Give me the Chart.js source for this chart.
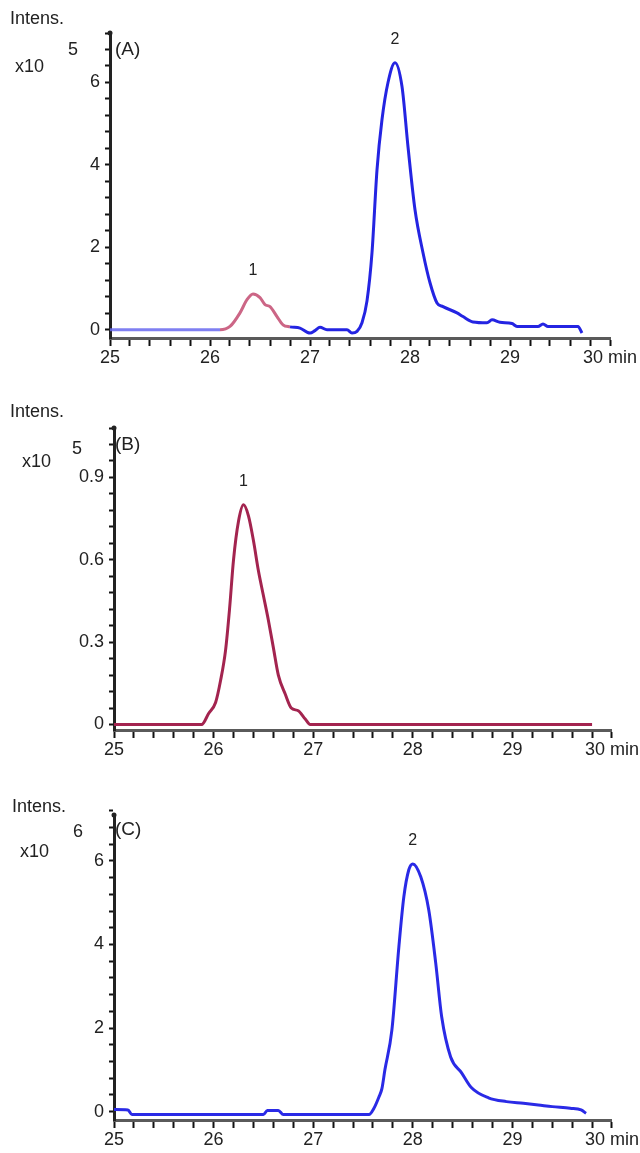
<!DOCTYPE html>
<html>
<head>
<meta charset="utf-8">
<script src="https://cdn.jsdelivr.net/npm/chart.js@4.4.0/dist/chart.umd.min.js"></script>
<style>
    body { margin: 0; background: #fff; width: 640px; height: 1153px; position: relative; overflow: hidden;
           font-family: "Liberation Sans", Arial, sans-serif; }
    canvas { position: absolute; left: 0; }
    .lbl { position: absolute; font-size: 18px; line-height: 18px; color: #222; white-space: nowrap; }
</style>
</head>
<body>
<canvas id="chartA" width="640" height="375" style="top:0px"></canvas>
<canvas id="chartB" width="640" height="375" style="top:390px"></canvas>
<canvas id="chartC" width="640" height="378" style="top:775px"></canvas>

<div class="lbl" style="left:10px;top:9px">Intens.</div>
<div class="lbl" style="left:15px;top:57px">x10</div>
<div class="lbl" style="left:68px;top:40px">5</div>
<div class="lbl" style="left:115px;top:40px;font-size:19px">(A)</div>

<div class="lbl" style="left:10px;top:402px">Intens.</div>
<div class="lbl" style="left:22px;top:452px">x10</div>
<div class="lbl" style="left:72px;top:439px">5</div>
<div class="lbl" style="left:115px;top:435px;font-size:19px">(B)</div>

<div class="lbl" style="left:12px;top:797px">Intens.</div>
<div class="lbl" style="left:20px;top:842px">x10</div>
<div class="lbl" style="left:73px;top:822px">6</div>
<div class="lbl" style="left:115px;top:820px;font-size:19px">(C)</div>

<script>
// ===== DATA (retention time in min, intensity in x10^n) =====
const xTickLabels = ['25', '26', '27', '28', '29', '30 min'];

// (A) mixture: peak 1 (highlighted) and peak 2
const timesA = [25.0, 26.1, 26.2, 26.3, 26.37, 26.43, 26.5, 26.55, 26.6, 26.67, 26.73, 26.8,
                26.9, 27.0, 27.05, 27.1, 27.17, 27.37, 27.42, 27.47, 27.52, 27.57, 27.62, 27.67,
                27.72, 27.78, 27.85, 27.92, 27.98, 28.05, 28.13, 28.2, 28.27, 28.33, 28.47, 28.53,
                28.63, 28.77, 28.82, 28.9, 29.02, 29.07, 29.28, 29.33, 29.38, 29.68, 29.72];
const intensA = [0, 0, 0.08, 0.41, 0.73, 0.87, 0.78, 0.61, 0.56, 0.32, 0.12, 0.07,
                 0.04, -0.08, -0.02, 0.06, 0, 0, -0.08, -0.04, 0.17, 0.7, 1.87, 3.88,
                 5.1, 6.0, 6.48, 5.9, 4.44, 2.91, 1.87, 1.14, 0.65, 0.56, 0.41, 0.32,
                 0.19, 0.17, 0.24, 0.18, 0.15, 0.08, 0.08, 0.14, 0.08, 0.08, -0.08];
const yLabelsA = [0, 2, 4, 6];

// (B) peak 1 only
const timesB = [25.0, 25.88, 25.95, 26.02, 26.07, 26.12, 26.16, 26.2, 26.25, 26.3, 26.35, 26.4,
                26.45, 26.5, 26.55, 26.6, 26.65, 26.72, 26.78, 26.85, 26.92, 26.97, 29.8];
const intensB = [0, 0, 0.04, 0.08, 0.16, 0.27, 0.42, 0.6, 0.74, 0.8, 0.76, 0.67,
                 0.56, 0.47, 0.38, 0.28, 0.18, 0.11, 0.06, 0.05, 0.02, 0, 0];
const yLabelsB = [0, 0.3, 0.6, 0.9];

// (C) peak 2 only
const timesC = [25.0, 25.14, 25.18, 26.5, 26.54, 26.65, 26.7, 27.56, 27.61, 27.66, 27.69, 27.72,
                27.79, 27.86, 27.91, 27.96, 28.0, 28.08, 28.16, 28.23, 28.29, 28.38, 28.49, 28.59,
                28.76, 28.94, 29.11, 29.26, 29.4, 29.58, 29.69, 29.74];
const intensC = [0.05, 0.04, -0.07, -0.07, 0.03, 0.03, -0.07, -0.07, 0.08, 0.35, 0.55, 1.0,
                 1.95, 3.94, 5.14, 5.79, 5.93, 5.62, 4.83, 3.56, 2.27, 1.31, 0.93, 0.57,
                 0.33, 0.24, 0.2, 0.16, 0.12, 0.08, 0.04, -0.04];
const yLabelsC = [0, 2, 4, 6];

const FONT = '"Liberation Sans", Arial, sans-serif';

// peak number above the highest point near the given time
const peakLabels = {
    id: 'peakLabels',
    afterDatasetsDraw(chart, args, opts) {
        const pts = chart.data.datasets[0].data;
        const { ctx, scales } = chart;
        ctx.save();
        ctx.font = '16px ' + FONT;
        ctx.fillStyle = '#222';
        ctx.textAlign = 'center';
        ctx.textBaseline = 'middle';
        opts.times.forEach((t, i) => {
            let best = null;
            pts.forEach(p => {
                if (Math.abs(p.x - t) < 0.2 && (!best || p.y > best.y)) best = p;
            });
            if (!best) return;
            ctx.fillText(opts.names[i], scales.x.getPixelForValue(best.x), scales.y.getPixelForValue(best.y) - 23);
        });
        ctx.restore();
    }
};

// small knob on top of the intensity axis
const axisKnob = {
    id: 'axisKnob',
    afterDraw(chart) {
        const { ctx, chartArea } = chart;
        ctx.save();
        ctx.fillStyle = '#222';
        ctx.beginPath();
        ctx.arc(chartArea.left, chartArea.top, 2.5, 0, Math.PI * 2);
        ctx.fill();
        ctx.restore();
    }
};

function stepTicks(from, to, step) {
    const out = [];
    const n = Math.round((to - from) / step);
    for (let i = 0; i <= n; i++) out.push({ value: Math.round((from + i * step) * 1000) / 1000 });
    return out;
}

function createPanel(canvasId, p) {
    const ctx = document.getElementById(canvasId);
    if (!ctx) return;

    new Chart(ctx, {
        type: 'line',
        data: {
            datasets: [{
                data: p.times.map((t, i) => ({ x: t, y: p.values[i] })),
                borderColor: p.color,
                borderWidth: 3,
                pointRadius: 0,
                cubicInterpolationMode: 'monotone',
                segment: p.segment
            }]
        },
        options: {
            responsive: false,
            animation: false,
            devicePixelRatio: 1,
            layout: { padding: { top: p.top, right: 640 - p.right, bottom: 0, left: 0 } },
            plugins: {
                legend: { display: false },
                tooltip: { enabled: false },
                peakLabels: { times: p.peakTimes, names: p.peakNames }
            },
            scales: {
                x: {
                    type: 'linear',
                    min: 25,
                    max: 30,
                    afterFit: s => { s.height = p.height - p.bottom; },
                    afterBuildTicks: s => { s.ticks = stepTicks(25, 30, 0.2); },
                    ticks: {
                        autoSkip: false,
                        maxRotation: 0,
                        padding: 1,
                        color: '#222',
                        font: { family: FONT, size: 18 },
                        callback: v => {
                            const k = Math.round(v - 25);
                            return Math.abs(v - 25 - k) < 1e-6 ? xTickLabels[k] : '';
                        }
                    },
                    grid: { drawOnChartArea: false, tickLength: 8, tickWidth: 2, tickColor: '#111' },
                    border: { color: '#5a5a5a', width: 3 }
                },
                y: {
                    min: p.yMin,
                    max: p.yMax,
                    afterFit: s => { s.width = p.left; },
                    afterBuildTicks: s => { s.ticks = stepTicks(0, p.yMax, p.yStep); },
                    ticks: {
                        autoSkip: false,
                        padding: 5,
                        color: '#222',
                        font: { family: FONT, size: 18 },
                        callback: v => {
                            const hit = p.yLabels.find(l => Math.abs(l - v) < 1e-6);
                            return hit === undefined ? '' : String(hit);
                        }
                    },
                    grid: { drawOnChartArea: false, tickLength: 5, tickWidth: 2, tickColor: '#111' },
                    border: { color: '#222', width: 3 }
                }
            }
        },
        plugins: [peakLabels, axisKnob]
    });
}

// panel A: baseline light blue, peak 1 pink, rest blue
const colorA = t => t < 26.1 ? 'rgba(105,105,238,0.85)' : t < 26.8 ? '#cc6686' : '#2424e2';

createPanel('chartA', {
    times: timesA, values: intensA, color: '#2424e2',
    segment: { borderColor: c => colorA(c.p0.parsed.x) },
    top: 33, bottom: 338, left: 110, right: 610, height: 375,
    yMin: -0.2, yMax: 7.2, yStep: 0.4, yLabels: yLabelsA,
    peakTimes: [26.43, 27.85], peakNames: ['1', '2']
});

createPanel('chartB', {
    times: timesB, values: intensB, color: '#a3244f',
    top: 38, bottom: 340, left: 114, right: 612, height: 375,
    yMin: -0.02, yMax: 1.08, yStep: 0.06, yLabels: yLabelsB,
    peakTimes: [26.3], peakNames: ['1']
});

createPanel('chartC', {
    times: timesC, values: intensC, color: '#2a2ae6',
    top: 40, bottom: 345, left: 114, right: 612, height: 378,
    yMin: -0.2, yMax: 7.1, yStep: 0.4, yLabels: yLabelsC,
    peakTimes: [28.0], peakNames: ['2']
});
</script>
</body>
</html>
